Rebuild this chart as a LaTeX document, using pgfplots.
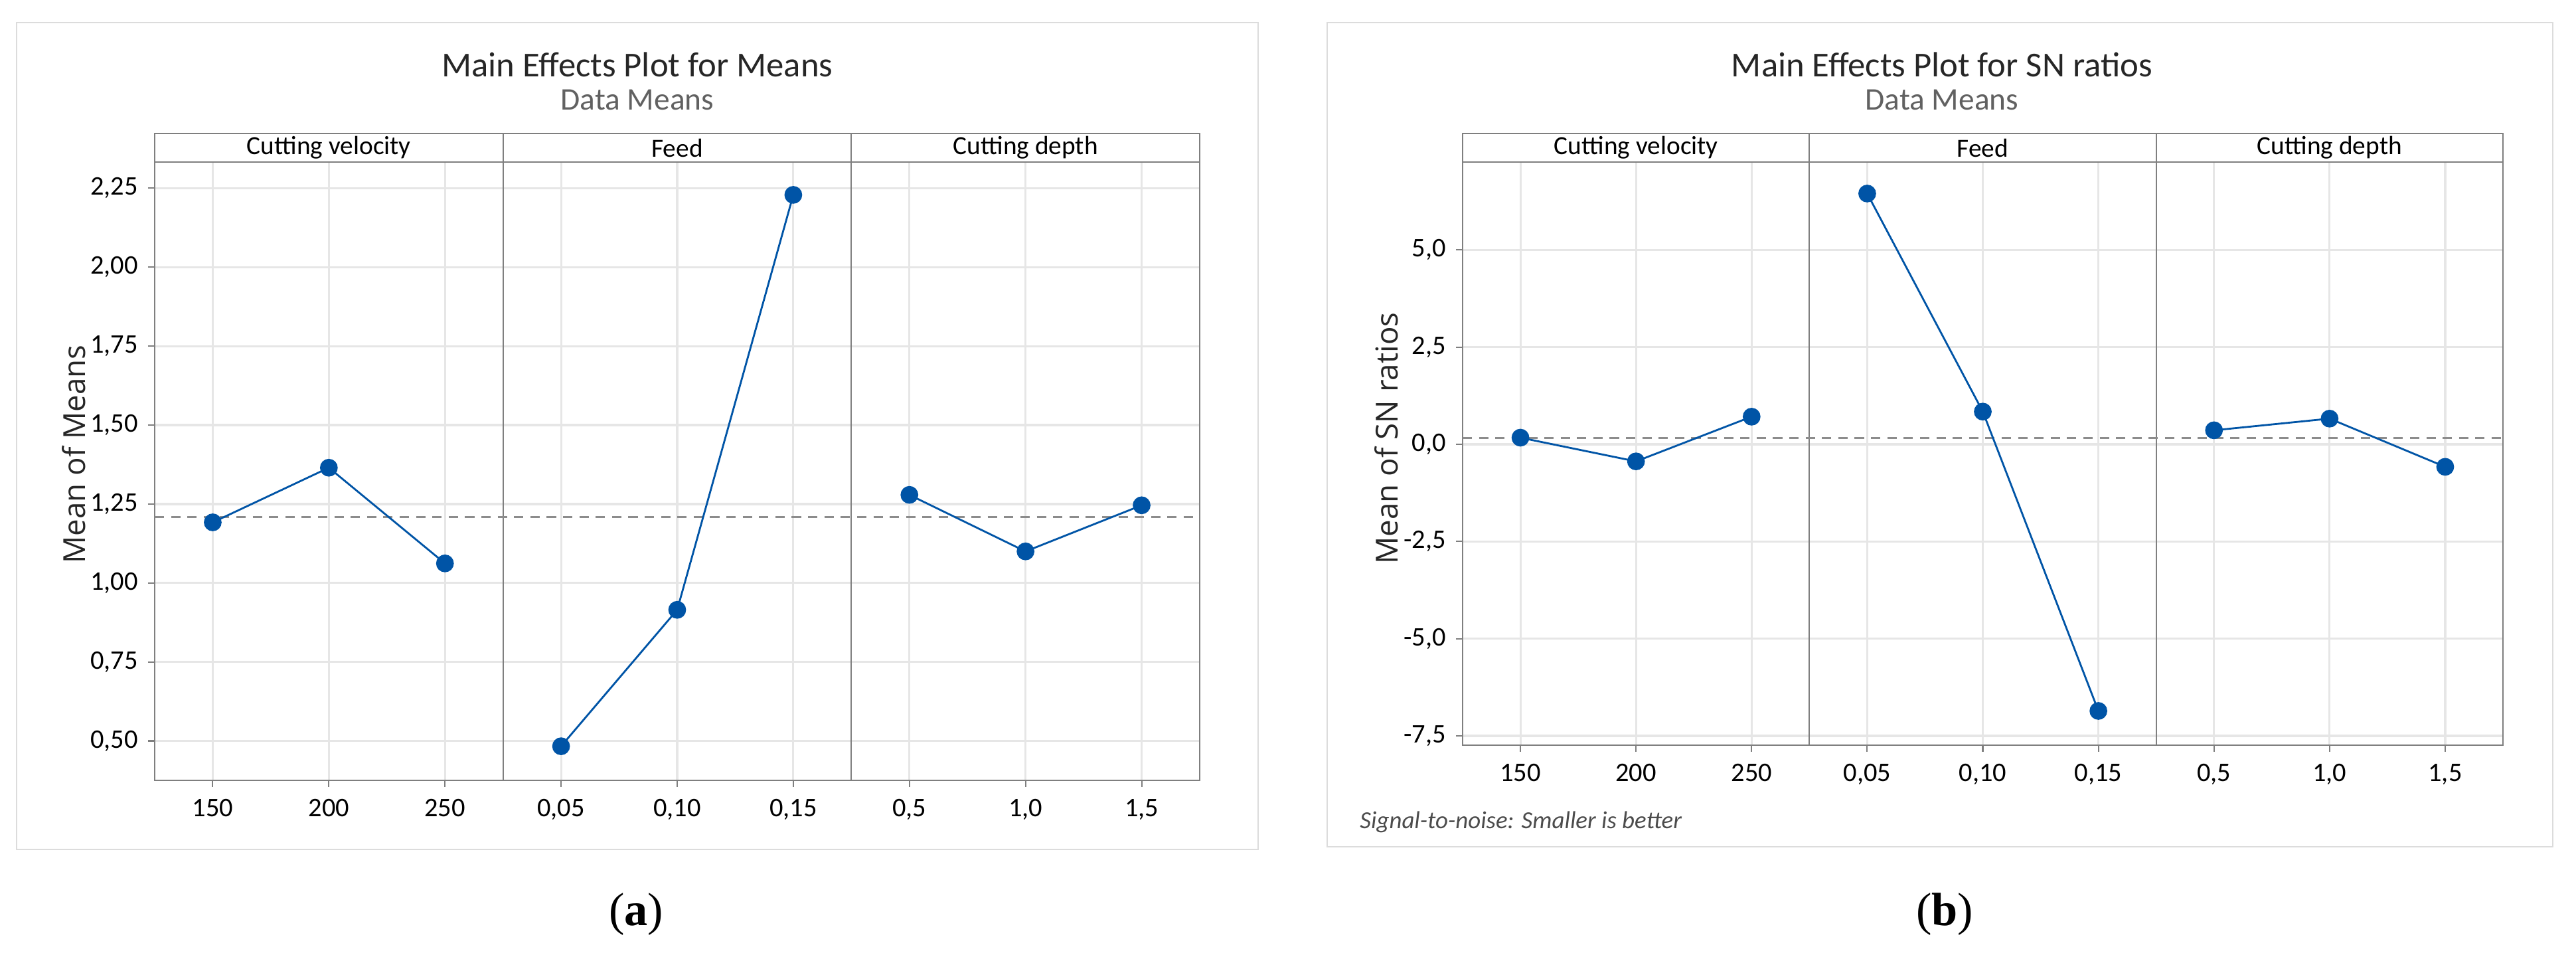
\documentclass[border=0pt]{standalone}
\usepackage{fontspec}
\setmainfont{Carlito}
\newfontfamily\osans{Open Sans}
\newfontfamily\lserif{Liberation Serif}
\usepackage{pgfplots}
\pgfplotsset{compat=1.18}
\definecolor{minblue}{HTML}{0054A6}
\definecolor{gridc}{HTML}{E6E6E6}
\definecolor{axc}{HTML}{7F7F7F}
\definecolor{framec}{HTML}{DCDCDC}
\pgfplotsset{
  mestyle/.style={
    scale only axis, anchor=south west,
    xmin=-0.5, xmax=8.5,
    xtick={0,...,8},
    xticklabels={150,200,250,{0,05},{0,10},{0,15},{0,5},{1,0},{1,5}},
    grid=major,
    major grid style={draw=gridc, line width=0.9pt},
    axis line style={draw=axc, line width=0.8pt},
    tick style={draw=axc, line width=0.6pt},
    tick align=outside, major tick length=1mm,
    xtick pos=bottom, ytick pos=left,
    ticklabel style={font=\fontsize{11.5}{13}\selectfont, text=black},
    xticklabel style={yshift=-0.6mm},
    yticklabel style={xshift=-0.3mm},
    clip=false,
    every axis plot/.append style={line width=0.8pt},
  },
  ptstyle/.style={color=minblue, mark=*, mark size=3.4pt, mark options={fill=minblue, draw=minblue}},
}
\begin{document}
\begin{tikzpicture}
\path[use as bounding box] (0,0) rectangle (388mm,145mm);
% frames
\draw[framec, line width=0.8pt] (2.5mm,17.1mm) rectangle (189.5mm,141.6mm);
\draw[framec, line width=0.8pt] (199.9mm,17.5mm) rectangle (384.5mm,141.6mm);
% titles
\node[text=black!85, font=\fontsize{15}{17}\selectfont] at (96mm,135.3mm) {Main Effects Plot for Means};
\node[text=black!62, font=\fontsize{13.5}{15}\selectfont] at (96mm,130.0mm) {Data Means};
\node[text=black!85, font=\fontsize{15}{17}\selectfont] at (292.5mm,135.3mm) {Main Effects Plot for SN ratios};
\node[text=black!62, font=\fontsize{13.5}{15}\selectfont] at (292.5mm,130.0mm) {Data Means};

% ---------------- (a) ----------------
\begin{axis}[mestyle,
  at={(23.3mm,27.5mm)}, width=157.4mm, height=93.1mm,
  ymin=0.375, ymax=2.333,
  ytick={0.5,0.75,1,1.25,1.5,1.75,2,2.25},
  yticklabels={{0,50},{0,75},{1,00},{1,25},{1,50},{1,75},{2,00},{2,25}},
]
\addplot[axc, line width=0.6pt, forget plot] coordinates {(2.5,0.375) (2.5,2.333)};
\addplot[axc, line width=0.6pt, forget plot] coordinates {(5.5,0.375) (5.5,2.333)};
\addplot[black!45, dashed, dash pattern=on 4pt off 3pt, line width=0.8pt] coordinates {(-0.5,1.208) (8.5,1.208)};
\addplot[ptstyle] coordinates {(0,1.192) (1,1.365) (2,1.062)};
\addplot[ptstyle] coordinates {(3,0.483) (4,0.915) (5,2.229)};
\addplot[ptstyle] coordinates {(6,1.279) (7,1.100) (8,1.246)};
\end{axis}
\node[rotate=90, text=black!85, font=\osans\fontsize{13}{15}\selectfont] at (11.1mm,76.6mm) {Mean of Means};
\draw[axc, line width=0.8pt] (23.3mm,120.6mm) rectangle (180.7mm,124.9mm);
\draw[axc, line width=0.6pt] (75.77mm,120.6mm) -- (75.77mm,124.9mm);
\draw[axc, line width=0.6pt] (128.23mm,120.6mm) -- (128.23mm,124.9mm);
\node[font=\fontsize{11.2}{12}\selectfont] at (49.53mm,122.75mm) {Cutting velocity};
\node[font=\fontsize{11.2}{12}\selectfont] at (102mm,122.75mm) {Feed};
\node[font=\fontsize{11.2}{12}\selectfont] at (154.47mm,122.75mm) {Cutting depth};

% ---------------- (b) ----------------
\begin{axis}[mestyle,
  at={(220.3mm,32.8mm)}, width=156.7mm, height=87.8mm,
  ymin=-7.74, ymax=7.26,
  ytick={-7.5,-5,-2.5,0,2.5,5},
  yticklabels={{-7,5},{-5,0},{-2,5},{0,0},{2,5},{5,0}},
]
\addplot[axc, line width=0.6pt, forget plot] coordinates {(2.5,-7.74) (2.5,7.26)};
\addplot[axc, line width=0.6pt, forget plot] coordinates {(5.5,-7.74) (5.5,7.26)};
\addplot[black!45, dashed, dash pattern=on 4pt off 3pt, line width=0.8pt] coordinates {(-0.5,0.16) (8.5,0.16)};
\addplot[ptstyle] coordinates {(0,0.17) (1,-0.44) (2,0.71)};
\addplot[ptstyle] coordinates {(3,6.45) (4,0.84) (5,-6.86)};
\addplot[ptstyle] coordinates {(6,0.36) (7,0.66) (8,-0.58)};
\end{axis}
\node[rotate=90, text=black!85, font=\osans\fontsize{13}{15}\selectfont] at (208.8mm,79mm) {Mean of SN ratios};
\draw[axc, line width=0.8pt] (220.3mm,120.6mm) rectangle (377.0mm,124.9mm);
\draw[axc, line width=0.6pt] (272.53mm,120.6mm) -- (272.53mm,124.9mm);
\draw[axc, line width=0.6pt] (324.77mm,120.6mm) -- (324.77mm,124.9mm);
\node[font=\fontsize{11.2}{12}\selectfont] at (246.42mm,122.75mm) {Cutting velocity};
\node[font=\fontsize{11.2}{12}\selectfont] at (298.65mm,122.75mm) {Feed};
\node[font=\fontsize{11.2}{12}\selectfont] at (350.88mm,122.75mm) {Cutting depth};
\node[anchor=west, text=black!70, font=\itshape\fontsize{10.5}{12}\selectfont] at (203.6mm,21.2mm) {Signal-to-noise: Smaller is better};

% captions
\node[font=\lserif\fontsize{20}{22}\selectfont] at (95.8mm,7.3mm) {(\textbf{a})};
\node[font=\lserif\fontsize{20}{22}\selectfont] at (292.9mm,7.3mm) {(\textbf{b})};
\end{tikzpicture}
\end{document}
